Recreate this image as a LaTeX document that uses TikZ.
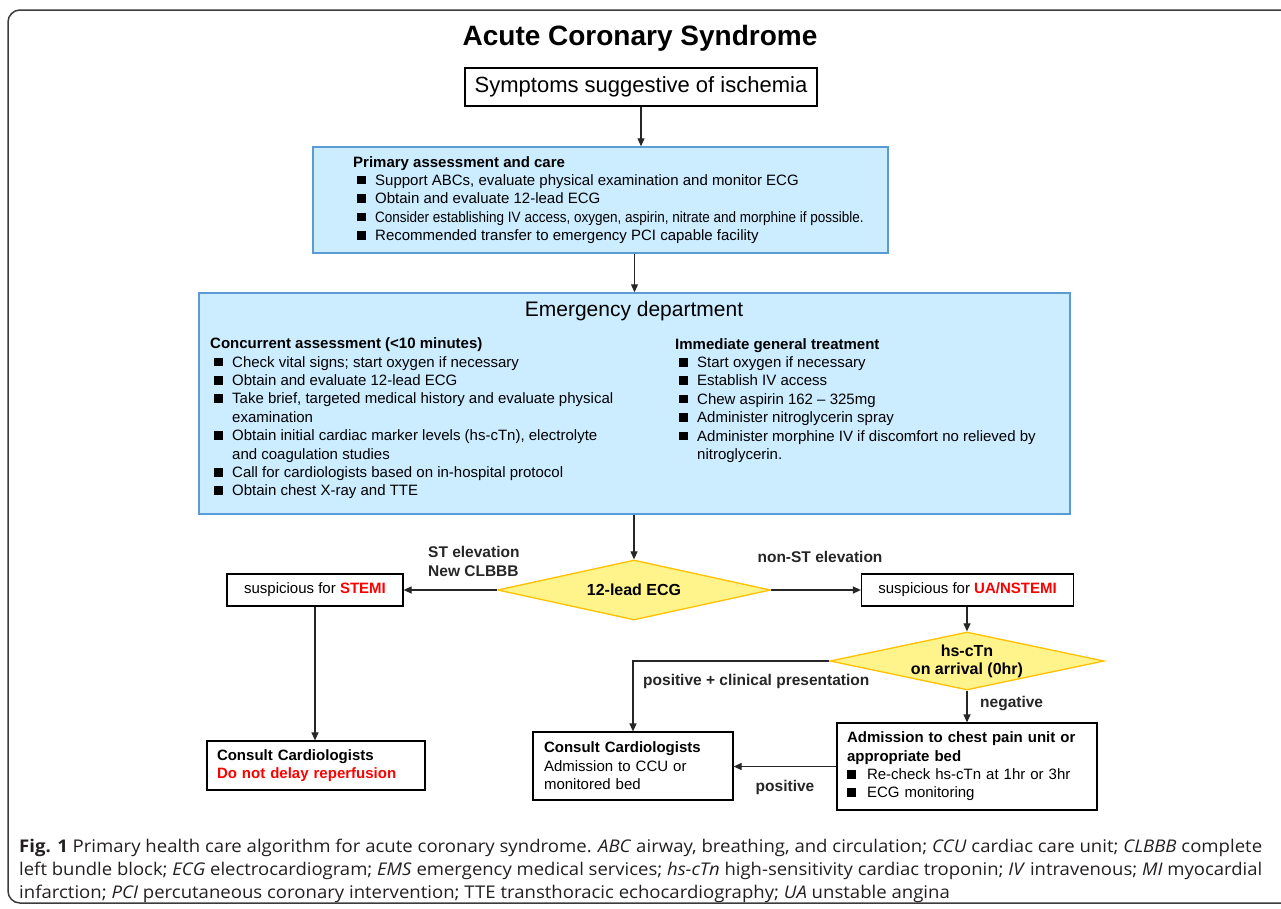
\documentclass[tikz,border=0pt]{standalone}
\usepackage{fontspec}
\setmainfont{Liberation Sans}
\newfontfamily\capff{Open Sans}
\usepackage{graphicx}
\usetikzlibrary{shapes.geometric,arrows.meta}
\definecolor{boxblue}{RGB}{204,236,255}
\definecolor{edgeblue}{RGB}{91,155,213}
\definecolor{dyellow}{RGB}{255,243,140}
\definecolor{dgold}{RGB}{255,192,0}
\definecolor{capcol}{RGB}{35,31,32}
\definecolor{framecol}{RGB}{60,60,60}
\definecolor{alertred}{RGB}{255,0,0}
\newcommand\bl{\makebox[22pt][l]{\hspace*{4pt}\rule[1pt]{8.5pt}{8.5pt}}}
\newcommand\blz{\makebox[20pt][l]{\rule[1pt]{8.5pt}{8.5pt}}}
\newcommand\ind{\hspace*{22pt}}
\newcommand\capfnt{\capff\fontsize{17.5}{20}\selectfont\color{capcol}}
\newsavebox\capone
\newlength\capw
\begin{document}
\sbox\capone{\capfnt\textbf{Fig. 1} Primary health care algorithm for acute coronary syndrome. \textit{ABC} airway, breathing, and circulation; \textit{CCU} cardiac care unit; \textit{CLBBB} complete}%
\setlength\capw{\wd\capone}%
\pgfmathsetmacro\capsc{1243/\capw}%
\begin{tikzpicture}[x=1pt,y=-1pt,
  body/.style={font=\fontsize{15}{18.4}\selectfont},
  bluebox/.style={draw=edgeblue, line width=1.5pt, fill=boxblue, inner sep=0pt},
  plainbox/.style={draw=black, line width=1.2pt, fill=white, inner sep=0pt, font=\fontsize{15}{18.4}\selectfont},
  decision/.style={diamond, draw=dgold, line width=1.3pt, fill=dyellow, inner sep=0pt},
  dtext/.style={font=\fontsize{16}{18}\selectfont\bfseries, align=center, inner sep=0pt},
  arr/.style={-{Triangle[length=8pt,width=7pt]}, line width=1.2pt, draw=black!85},
  lbl/.style={font=\fontsize{15.5}{19}\selectfont\bfseries, inner sep=0pt, text=black!85},
]
\useasboundingbox (0,0) rectangle (1281,908);
\fill[white] (0,0) rectangle (1281,908);
\draw[framecol, line width=1.5pt, rounded corners=12pt] (8,10) rectangle (1300,903);

% title and top
\node[font=\fontsize{28}{30}\selectfont\bfseries] (title) at (640,38) {Acute Coronary Syndrome};
\node[plainbox, minimum width=352pt, minimum height=38pt, font=\fontsize{22}{24}\selectfont] (symp) at (641,87) {Symptoms suggestive of ischemia};

\node[bluebox, minimum width=575pt, minimum height=106pt] (prim) at (600.5,200) {};
\node[body, anchor=west, align=left, inner sep=0pt] (primt) at (353,200)
{\textbf{Primary assessment and care}\\
\bl Support ABCs, evaluate physical examination and monitor ECG\\
\bl Obtain and evaluate 12-lead ECG\\
\bl \scalebox{0.9}[1]{Consider establishing IV access, oxygen, aspirin, nitrate and morphine if possible.}\\
\bl Recommended transfer to emergency PCI capable facility};

% emergency department
\node[bluebox, minimum width=871pt, minimum height=221pt] (ed) at (634.5,403.5) {};
\node[font=\fontsize{21}{24}\selectfont] (edt) at (634,311) {Emergency department};
\node[body, anchor=west, align=left, inner sep=0pt] (edl) at (210,418.5)
{\textbf{Concurrent assessment (<10 minutes)}\\
\bl Check vital signs; start oxygen if necessary\\
\bl Obtain and evaluate 12-lead ECG\\
\bl Take brief, targeted medical history and evaluate physical\\
\ind examination\\
\bl Obtain initial cardiac marker levels (hs-cTn), electrolyte\\
\ind and coagulation studies\\
\bl Call for cardiologists based on in-hospital protocol\\
\bl Obtain chest X-ray and TTE};
\node[body, anchor=west, align=left, inner sep=0pt] (edr) at (675,400.5)
{\textbf{Immediate general treatment}\\
\bl Start oxygen if necessary\\
\bl Establish IV access\\
\bl Chew aspirin 162 -- 325mg\\
\bl Administer nitroglycerin spray\\
\bl Administer morphine IV if discomfort no relieved by\\
\ind nitroglycerin.};

% decisions
\node[decision, minimum width=273pt, minimum height=60pt] (d1) at (634,590) {};
\node[dtext] (d1t) at (d1) {12-lead ECG};
\node[decision, minimum width=274pt, minimum height=58pt] (d2) at (967,661) {};
\node[dtext] (d2t) at (d2) {hs-cTn\\on arrival (0hr)};

% boxes
\node[plainbox, minimum width=176pt, minimum height=32pt] (stemi) at (315,590) {suspicious for \textcolor{alertred}{\textbf{STEMI}}};
\node[plainbox, minimum width=212pt, minimum height=32pt] (ua) at (967.5,590) {suspicious for \textcolor{alertred}{\textbf{UA/NSTEMI}}};
\node[plainbox, minimum width=218pt, minimum height=49pt, text width=198pt, align=left] (cons1) at (316,765.5)
{\textbf{Consult Cardiologists}\\\textcolor{alertred}{\textbf{Do not delay reperfusion}}};
\node[plainbox, minimum width=200pt, minimum height=68pt, text width=178pt, align=left] (cons2) at (633,766)
{\textbf{Consult Cardiologists}\\Admission to CCU or\\monitored bed};
\node[plainbox, minimum width=260pt, minimum height=87pt, text width=240pt, align=left] (adm) at (967,766.5)
{\textbf{Admission to chest pain unit or}\\\textbf{appropriate bed}\\\blz Re-check hs-cTn at 1hr or 3hr\\\blz ECG monitoring};

% connectors
\draw[arr] (symp.south) -- (symp.south |- prim.north);
\draw[arr] (ed.north |- prim.south) -- (ed.north);
\draw[arr] (d1.north |- ed.south) -- (d1.north);
\draw[arr] (d1.west) -- (stemi.east);
\draw[arr] (d1.east) -- (ua.west);
\draw[arr] (d2.north |- ua.south) -- (d2.north);
\draw[arr] (stemi.south) -- (stemi.south |- cons1.north);
\draw[arr] (d2.west) -| (cons2.north);
\draw[arr] (d2.south) -- (adm.north);
\draw[arr] (adm.west) -- (adm.west -| cons2.east);

% labels
\node[lbl, anchor=west, align=left] (lst) at (428,561) {ST elevation\\New CLBBB};
\node[lbl] (lnst) at (820,557) {non-ST elevation};
\node[lbl, anchor=west] (lpos) at (643,681) {positive + clinical presentation};
\node[lbl, anchor=west] (lneg) at (980,704) {negative};
\node[lbl] (lpos2) at (785,787) {positive};

% caption
\node[anchor=west, inner sep=0pt] (cap1) at (19,848) {\scalebox{\capsc}[1]{\usebox\capone}};
\node[anchor=west, inner sep=0pt] (cap2) at (19,871) {\resizebox{1243pt}{\height}{\capfnt left bundle block; \textit{ECG} electrocardiogram; \textit{EMS} emergency medical services; \textit{hs-cTn} high-sensitivity cardiac troponin; \textit{IV} intravenous; \textit{MI} myocardial}};
\node[anchor=west, inner sep=0pt] (cap3) at (19,894) {\scalebox{\capsc}[1]{\capfnt infarction; \textit{PCI} percutaneous coronary intervention; TTE transthoracic echocardiography; \textit{UA} unstable angina}};
\end{tikzpicture}
\end{document}
